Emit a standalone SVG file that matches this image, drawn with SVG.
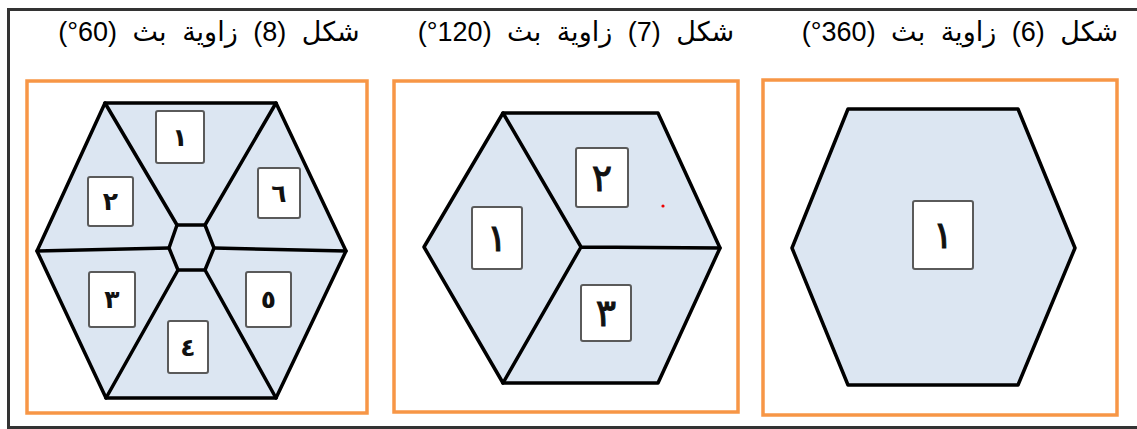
<svg xmlns="http://www.w3.org/2000/svg" width="1137" height="429" viewBox="0 0 1137 429">
<style>
.frame{fill:none;stroke:#333;stroke-width:3}
.panel{fill:none;stroke:#F79646;stroke-width:3.5}
.hex{fill:#DCE6F2;stroke:#000;stroke-width:3.5;stroke-linejoin:round}
.edge{fill:none;stroke:#000;stroke-width:3.5;stroke-linecap:round}
.box{fill:#fff;stroke:#5a5a5a;stroke-width:2}
.title{font-family:"Liberation Sans","DejaVu Sans",sans-serif;font-size:27px;word-spacing:8px;fill:#000;text-anchor:middle;direction:rtl}
.num{font-family:"DejaVu Sans",sans-serif;fill:#111;text-anchor:middle}
.n1{font-size:25px;font-weight:bold}
.n2{font-size:38px;stroke:#111;stroke-width:1}
</style>
<g id="frame">
<path class="frame" d="M7 9.5H1137M8.5 8V429M7 427.5H1137"/>
</g>
<g id="titles">
<text class="title" x="209" y="41">شكل (8) زاوية بث (60°)</text>
<text class="title" x="576" y="41">شكل (7) زاوية بث (120°)</text>
<text class="title" x="960" y="41">شكل (6) زاوية بث (360°)</text>
</g>
<g id="panel8">
<rect class="panel" x="27" y="81" width="340" height="332"/>
<polygon class="hex" points="105,103 276,103 346,251 276,398 106,398 37,251"/>
<polygon class="hex" points="177,225 205,225 214,248 205,270 178,270 169,248"/>
<path class="edge" d="M105,103L177,225M276,103L205,225M346,251L214,248M37,251L169,248M106,398L178,270M276,398L205,270"/>
<g id="p8-s1"><rect class="box" x="156" y="111" width="48" height="52" rx="2"/><text class="num n1" x="180" y="146">١</text></g>
<g id="p8-s2"><rect class="box" x="88" y="177" width="45" height="49" rx="2"/><text class="num n1" x="110.5" y="210">٢</text></g>
<g id="p8-s3"><rect class="box" x="89" y="272" width="46" height="55" rx="2"/><text class="num n1" x="112" y="308">٣</text></g>
<g id="p8-s4"><rect class="box" x="168" y="321" width="40" height="52" rx="2"/><text class="num n1" x="188" y="356">٤</text></g>
<g id="p8-s5"><rect class="box" x="246" y="272" width="45" height="55" rx="2"/><text class="num n1" x="268.5" y="308">٥</text></g>
<g id="p8-s6"><rect class="box" x="258" y="168" width="42" height="50" rx="2"/><text class="num n1" x="279" y="202">٦</text></g>
</g>
<g id="panel7">
<rect class="panel" x="394" y="81" width="344" height="331"/>
<polygon class="hex" points="503,113 658,113 720,248 658,383 503,383 424,247"/>
<path class="edge" d="M503,113L581,247L720,248M581,247L503,383"/>
<g id="p7-s1"><rect class="box" x="472" y="207" width="50" height="62" rx="2"/><text class="num n2" x="497" y="251">١</text></g>
<g id="p7-s2"><rect class="box" x="576" y="148" width="52" height="59" rx="2"/><text class="num n2" x="602" y="191">٢</text></g>
<g id="p7-s3"><rect class="box" x="581" y="285" width="50" height="56" rx="2"/><text class="num n2" x="606" y="326">٣</text></g>
<circle cx="663" cy="206" r="1.6" fill="#e00"/>
</g>
<g id="panel6">
<rect class="panel" x="763" y="80" width="354" height="335"/>
<polygon class="hex" points="848,109 1018,109 1075,248 1018,385 848,385 792,248"/>
<g id="p6-s1"><rect class="box" x="913" y="201" width="60" height="68" rx="2"/><text class="num n2" x="943" y="248">١</text></g>
</g>
</svg>
